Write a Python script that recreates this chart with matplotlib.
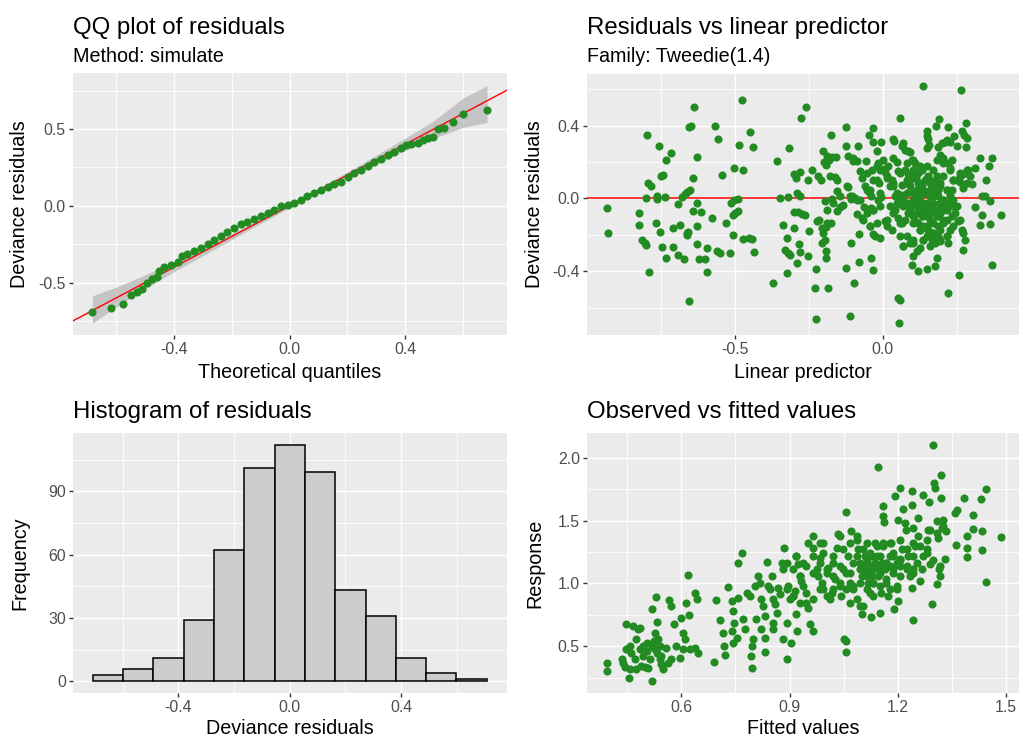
import matplotlib
matplotlib.use("Agg")
import matplotlib.pyplot as plt
import numpy as np

plt.rcParams["font.family"] = ["Liberation Sans", "DejaVu Sans"]
plt.rcParams["axes.unicode_minus"] = False

# QQ plot: theoretical quantile, deviance residual
qq_points = [
    (-0.683, -0.689), (-0.617, -0.665), (-0.576, -0.643), (-0.550, -0.583), (-0.527, -0.565),
    (-0.512, -0.543), (-0.495, -0.500), (-0.475, -0.478), (-0.460, -0.461), (-0.452, -0.424),
    (-0.435, -0.402), (-0.412, -0.387), (-0.388, -0.365), (-0.371, -0.330), (-0.354, -0.317),
    (-0.331, -0.296), (-0.308, -0.272), (-0.284, -0.250), (-0.261, -0.222), (-0.238, -0.196),
    (-0.215, -0.170), (-0.192, -0.143), (-0.169, -0.120), (-0.146, -0.104), (-0.123, -0.083),
    (-0.099, -0.065), (-0.076, -0.048), (-0.053, -0.026), (-0.030, -0.004), (-0.007, 0.004),
    (0.016, 0.017), (0.039, 0.039), (0.062, 0.061), (0.086, 0.083), (0.109, 0.104),
    (0.132, 0.122), (0.155, 0.141), (0.178, 0.157), (0.201, 0.185), (0.224, 0.213),
    (0.247, 0.235), (0.271, 0.261), (0.294, 0.283), (0.317, 0.304), (0.340, 0.330),
    (0.363, 0.352), (0.386, 0.374), (0.403, 0.396), (0.421, 0.400), (0.444, 0.409),
    (0.461, 0.430), (0.479, 0.443), (0.496, 0.446), (0.513, 0.500), (0.536, 0.504),
    (0.565, 0.543), (0.600, 0.598), (0.684, 0.624),
]
band_x = [-0.683, -0.6, -0.5, -0.4, -0.3, -0.2, -0.1, 0.0, 0.1, 0.2, 0.3, 0.4, 0.5, 0.6, 0.684]
band_lo = [-0.765, -0.66, -0.54, -0.43, -0.325, -0.22, -0.115, -0.012, 0.085, 0.18, 0.27, 0.36, 0.44, 0.51, 0.543]
band_hi = [-0.587, -0.53, -0.45, -0.365, -0.275, -0.18, -0.085, 0.012, 0.115, 0.22, 0.33, 0.44, 0.555, 0.70, 0.783]

# residuals vs linear predictor
linpred_resid = [
    (-0.932, -0.053), (-0.929, -0.193), (-0.797, 0.349), (-0.756, 0.288), (-0.715, 0.248),
    (-0.732, 0.211), (-0.743, 0.128), (-0.748, 0.125), (-0.792, 0.083), (-0.784, 0.066),
    (-0.800, 0.002), (-0.762, 0.011), (-0.761, -0.006), (-0.735, 0.009), (-0.822, -0.081),
    (-0.824, -0.145), (-0.766, -0.136), (-0.753, -0.187), (-0.813, -0.231), (-0.803, -0.246),
    (-0.800, -0.259), (-0.788, -0.404), (-0.744, -0.266), (-0.732, -0.328), (-0.709, -0.163),
    (-0.709, -0.266), (-0.693, -0.312), (-0.685, -0.145), (-0.671, -0.332), (-0.693, -0.031),
    (-0.679, 0.006), (-0.668, 0.026), (-0.660, 0.037), (-0.651, 0.048), (-0.640, 0.110),
    (-0.626, 0.226), (-0.653, 0.393), (-0.649, 0.396), (-0.636, 0.499), (-0.627, -0.026),
    (-0.640, -0.068), (-0.615, -0.075), (-0.626, -0.154), (-0.662, -0.191), (-0.660, -0.204),
    (-0.657, -0.185), (-0.628, -0.251), (-0.619, -0.332), (-0.599, -0.336), (-0.592, -0.275),
    (-0.592, -0.404), (-0.577, -0.110), (-0.566, 0.398), (-0.557, 0.328), (-0.544, 0.130),
    (-0.561, -0.292), (-0.550, -0.299), (-0.530, -0.136), (-0.515, -0.299), (-0.506, -0.200),
    (-0.505, -0.092), (-0.499, -0.081), (-0.490, -0.072), (-0.511, -0.024), (-0.501, -0.011),
    (-0.490, -0.002), (-0.503, 0.169), (-0.486, 0.295), (-0.475, 0.541), (-0.472, 0.156),
    (-0.449, 0.363), (-0.439, 0.284), (-0.472, -0.226), (-0.450, -0.218), (-0.440, -0.222),
    (-0.435, -0.297), (-0.653, -0.565),
    (-0.358, 0.207), (-0.346, 0.000), (-0.319, 0.009), (-0.315, 0.277), (-0.372, -0.464),
    (-0.324, -0.409), (-0.338, -0.145), (-0.322, -0.218), (-0.330, -0.284), (-0.319, -0.299),
    (-0.313, -0.314), (-0.298, -0.163), (-0.291, -0.356), (-0.283, -0.251), (-0.279, -0.297),
    (-0.253, -0.316), (-0.250, -0.182), (-0.298, 0.132), (-0.279, 0.145), (-0.293, 0.112),
    (-0.288, 0.029), (-0.279, 0.015), (-0.301, -0.077), (-0.285, -0.077), (-0.271, -0.086),
    (-0.262, -0.094), (-0.252, 0.103), (-0.240, 0.158), (-0.218, 0.125), (-0.209, 0.103),
    (-0.200, 0.262), (-0.193, 0.185), (-0.199, 0.198), (-0.182, 0.213), (-0.188, 0.233),
    (-0.172, 0.226), (-0.158, 0.229), (-0.175, 0.347), (-0.277, 0.440), (-0.260, 0.501),
    (-0.225, -0.389), (-0.230, -0.495), (-0.225, -0.664), (-0.185, -0.494), (-0.191, -0.328),
    (-0.193, -0.288), (-0.206, -0.246), (-0.194, -0.229), (-0.200, -0.191), (-0.204, -0.165),
    (-0.191, -0.158), (-0.189, -0.136), (-0.175, -0.134), (-0.222, -0.123), (-0.214, -0.117),
    (-0.189, -0.062), (-0.195, -0.017), (-0.172, -0.004), (-0.167, -0.026), (-0.178, 0.121),
    (-0.161, 0.116), (-0.153, 0.103), (-0.155, 0.039), (-0.144, 0.015), (-0.154, -0.072),
    (-0.144, -0.050), (-0.134, -0.037), (-0.122, 0.070), (-0.116, 0.062), (-0.111, 0.011),
    (-0.105, 0.015), (-0.124, 0.393), (-0.125, 0.288), (-0.116, 0.231), (-0.099, 0.222),
    (-0.101, 0.204), (-0.088, 0.206), (-0.084, 0.290), (-0.107, -0.006), (-0.093, 0.004),
    (-0.086, -0.009), (-0.108, -0.246), (-0.125, -0.385), (-0.097, -0.466), (-0.110, -0.644),
    (-0.079, -0.350), (-0.079, -0.198), (-0.088, -0.084), (-0.063, -0.048), (-0.070, -0.106),
    (-0.075, 0.149), (-0.071, 0.112), (-0.056, 0.207), (-0.047, 0.349), (-0.034, 0.387),
    (-0.034, 0.308), (-0.020, 0.261), (-0.017, 0.194), (-0.007, 0.308), (-0.037, 0.158),
    (-0.054, 0.044), (-0.059, 0.066), (-0.046, 0.035), (-0.039, 0.011), (-0.038, -0.051),
    (-0.032, -0.062), (-0.044, -0.154), (-0.032, -0.196), (-0.026, -0.206), (-0.009, -0.218),
    (-0.039, -0.328), (-0.032, -0.396), (-0.015, -0.007), (-0.006, 0.007), (-0.020, 0.103),
    (-0.011, 0.084),
    (0.000, 0.161), (0.008, 0.143), (0.014, 0.112), (0.019, 0.176), (0.030, 0.103),
    (0.036, 0.066), (0.042, 0.011), (0.047, 0.029), (0.059, 0.440), (0.056, -0.007),
    (0.059, -0.031), (0.036, 0.327), (0.039, 0.314), (0.034, 0.222), (0.047, 0.198),
    (0.064, 0.290), (0.070, 0.305), (0.075, 0.268), (0.087, 0.259), (0.092, 0.253),
    (0.100, 0.213), (0.109, 0.194), (0.104, 0.158), (0.092, 0.103), (0.081, 0.084),
    (0.064, 0.075), (0.053, 0.152), (0.075, 0.158), (0.087, 0.134), (0.098, 0.117),
    (0.113, 0.112), (0.120, 0.084), (0.132, 0.075), (0.143, 0.103), (0.137, 0.618),
    (0.151, 0.372), (0.149, 0.341), (0.152, 0.327), (0.150, 0.275), (0.158, 0.295),
    (0.180, 0.400), (0.191, 0.437), (0.186, 0.283), (0.194, 0.240), (0.205, 0.222),
    (0.202, 0.305), (0.211, 0.308), (0.220, 0.391), (0.227, 0.312), (0.216, 0.323),
    (0.242, 0.345), (0.250, 0.286), (0.265, 0.593), (0.280, 0.413), (0.267, 0.369),
    (0.275, 0.347), (0.284, 0.332), (0.282, 0.283), (0.222, 0.194), (0.235, 0.213),
    (0.227, 0.167), (0.239, 0.103), (0.250, 0.103), (0.261, 0.121), (0.273, 0.136),
    (0.284, 0.149), (0.289, 0.158), (0.312, 0.165), (0.329, 0.220), (0.370, 0.224),
    (0.360, 0.178), (0.348, 0.101), (0.301, 0.079), (0.273, 0.057), (0.284, 0.084),
    (0.261, 0.088), (0.233, 0.048), (0.216, 0.048), (0.334, 0.011), (0.346, 0.015),
    (0.363, -0.017), (0.312, -0.046), (0.334, -0.090), (0.329, -0.145), (0.363, -0.141),
    (0.399, -0.092), (0.370, -0.369), (0.259, -0.422), (0.220, -0.521), (0.273, -0.284),
    (0.278, -0.228), (0.273, -0.191), (0.267, -0.172), (0.256, -0.127), (0.227, -0.172),
    (0.216, -0.209), (0.222, -0.246), (0.194, -0.237), (0.177, -0.246), (0.182, -0.328),
    (0.177, -0.374), (0.149, -0.389), (0.120, -0.398), (0.104, -0.319), (0.098, -0.365),
    (0.115, -0.292), (0.126, -0.273), (0.092, -0.246), (0.104, -0.228), (0.070, -0.264),
    (0.059, -0.209), (0.064, -0.136), (0.075, -0.117), (0.053, -0.108), (0.042, -0.062),
    (0.030, -0.172), (0.014, -0.154), (0.008, -0.127), (0.059, -0.558), (0.053, -0.549),
    (0.056, -0.686),
    (0.104, -0.026), (0.115, -0.044), (0.126, -0.062), (0.137, -0.081), (0.149, -0.099),
    (0.160, -0.117), (0.171, -0.136), (0.182, -0.099), (0.194, -0.081), (0.205, -0.062),
    (0.216, -0.044), (0.227, -0.026), (0.239, -0.007), (0.171, -0.026), (0.154, -0.044),
    (0.137, -0.026), (0.120, -0.007), (0.109, 0.011), (0.104, 0.029), (0.115, 0.048),
    (0.126, 0.048), (0.143, 0.029), (0.160, 0.011), (0.171, 0.029), (0.188, 0.011),
    (0.205, -0.007), (0.194, -0.044), (0.177, -0.062), (0.160, -0.081), (0.143, -0.062),
    (0.132, -0.099), (0.120, -0.136), (0.137, -0.154), (0.154, -0.172), (0.171, -0.191),
    (0.188, -0.154), (0.205, -0.136), (0.216, -0.117), (0.233, -0.099), (0.244, -0.081),
    (0.250, -0.044), (0.149, -0.209), (0.137, -0.228), (0.166, -0.228), (0.188, -0.209),
    (0.126, -0.172), (0.109, -0.127), (0.104, -0.099), (0.087, -0.081), (0.092, -0.053),
    (0.081, -0.026), (0.070, -0.007), (0.064, 0.020), (0.120, 0.139), (0.132, 0.158),
    (0.149, 0.176), (0.171, 0.158), (0.182, 0.121), (0.194, 0.084), (0.160, 0.084),
    (0.154, 0.121), (0.171, 0.066), (0.188, 0.048),
    (-0.054, 0.140), (-0.032, 0.103), (-0.009, 0.158), (0.014, 0.121), (0.036, 0.085),
    (0.058, 0.140), (0.081, 0.103), (0.103, 0.121), (0.126, 0.085), (0.149, 0.112),
    (0.171, 0.094), (0.194, 0.066), (0.216, 0.048), (-0.043, 0.048), (-0.009, 0.030),
    (0.025, 0.066), (0.047, 0.011), (0.081, 0.030), (0.103, -0.007), (0.126, 0.011),
    (0.149, -0.025), (0.171, 0.011), (0.194, -0.025), (0.216, -0.062), (0.239, -0.044),
    (0.092, -0.062), (0.115, -0.080), (0.137, -0.099), (0.160, -0.062), (0.182, -0.099),
    (0.205, -0.117), (0.036, -0.080), (0.014, -0.117), (-0.020, -0.135), (-0.043, -0.154),
    (0.058, -0.135), (0.103, -0.135), (0.126, -0.172), (0.149, -0.154), (0.171, -0.190),
    (0.194, -0.172), (0.216, -0.209), (0.239, -0.154), (0.261, -0.117), (0.081, -0.209),
    (0.103, -0.245), (0.137, -0.227), (0.160, -0.264), (0.194, -0.227), (0.070, -0.264),
    (0.115, -0.044), (0.137, -0.025), (0.160, 0.048), (0.182, 0.030), (0.205, -0.007),
    (0.227, 0.011), (0.092, 0.066), (0.115, 0.048), (0.137, 0.048), (0.070, -0.044),
    (0.047, -0.025), (0.261, 0.140), (0.284, 0.158), (0.295, 0.121), (0.239, 0.103),
    (-0.009, -0.044), (-0.032, -0.062), (-0.054, -0.080), (-0.066, -0.117), (-0.077, -0.007),
    (0.025, -0.044), (0.002, 0.213), (-0.020, 0.176), (0.081, 0.195), (0.103, 0.213),
    (0.126, 0.176), (0.182, 0.213), (0.205, 0.195), (0.227, 0.158), (0.205, 0.121),
]

# histogram of deviance residuals
hist_centers = [-0.654, -0.545, -0.436, -0.327, -0.218, -0.109, 0.0, 0.109, 0.218, 0.327, 0.436, 0.545, 0.654]
hist_counts = [3, 6, 11, 29, 62, 101, 112, 99, 43, 31, 11, 4, 1]
bin_width = 0.109

# observed vs fitted
fitted_response = [
    (0.392, 0.370), (0.392, 0.302), (0.447, 0.675), (0.436, 0.397), (0.438, 0.370),
    (0.443, 0.331), (0.454, 0.251), (0.447, 0.476), (0.456, 0.503), (0.466, 0.661),
    (0.480, 0.635), (0.484, 0.648), (0.473, 0.556), (0.470, 0.397), (0.475, 0.317),
    (0.489, 0.344), (0.498, 0.331), (0.507, 0.323), (0.517, 0.222), (0.519, 0.799),
    (0.529, 0.894), (0.532, 0.693), (0.526, 0.608), (0.523, 0.542), (0.517, 0.503),
    (0.526, 0.476), (0.531, 0.450), (0.540, 0.397), (0.544, 0.357), (0.549, 0.317),
    (0.540, 0.503), (0.503, 0.463), (0.494, 0.423), (0.484, 0.476), (0.512, 0.397),
    (0.558, 0.489), (0.566, 0.868), (0.570, 0.820), (0.580, 0.675), (0.586, 0.503),
    (0.595, 0.410), (0.572, 0.397), (0.563, 0.370), (0.600, 0.728), (0.605, 0.608),
    (0.609, 0.556), (0.614, 0.847), (0.619, 1.064), (0.621, 0.746), (0.637, 0.926),
    (0.642, 0.873), (0.637, 0.489), (0.646, 0.444), (0.623, 0.476), (0.605, 0.476),
    (0.544, 0.423), (0.461, 0.450), (0.456, 0.317), (0.503, 0.529), (0.494, 0.503),
    (0.535, 0.556),
    (0.690, 0.376), (0.697, 0.868), (0.706, 0.709), (0.716, 0.608), (0.718, 0.503),
    (0.722, 0.429), (0.730, 0.971), (0.739, 0.860), (0.744, 0.780), (0.745, 0.688),
    (0.739, 0.622), (0.744, 0.529), (0.753, 0.569), (0.757, 1.164), (0.757, 0.886),
    (0.769, 1.241), (0.771, 0.714), (0.776, 0.635), (0.781, 0.926), (0.790, 0.900),
    (0.792, 0.423), (0.796, 0.328), (0.797, 0.503), (0.799, 0.556), (0.804, 0.979),
    (0.808, 0.714), (0.813, 1.058), (0.818, 1.005), (0.822, 0.873), (0.827, 0.820),
    (0.832, 0.741), (0.822, 0.635), (0.832, 0.569), (0.832, 0.455), (0.838, 1.169),
    (0.841, 0.979), (0.845, 0.952), (0.850, 1.058), (0.855, 0.873), (0.859, 0.833),
    (0.864, 0.767), (0.855, 0.688), (0.853, 0.635), (0.869, 0.966), (0.873, 0.913),
    (0.878, 1.164), (0.881, 0.561), (0.884, 1.278), (0.892, 0.688), (0.892, 0.397),
    (0.896, 0.979), (0.901, 0.873), (0.910, 0.900), (0.915, 0.939), (0.904, 0.524),
    (0.919, 0.754), (0.921, 0.622), (0.919, 1.217), (0.924, 1.151), (0.929, 1.058),
    (0.933, 1.019), (0.938, 0.979), (0.947, 0.847), (0.952, 0.807), (0.957, 0.675),
    (0.966, 0.622), (0.952, 1.323), (0.964, 1.381), (0.966, 1.283), (0.975, 1.111),
    (0.980, 1.058), (0.984, 1.204), (0.989, 1.005), (0.994, 0.952), (0.994, 1.323),
    (1.003, 1.085), (1.007, 1.124), (1.012, 0.873), (1.017, 0.926), (1.021, 1.164),
    (1.026, 1.032), (1.032, 1.278), (1.035, 1.394), (1.040, 1.381), (1.040, 0.979),
    (1.044, 0.900), (1.049, 1.111), (1.052, 0.561), (1.058, 0.542), (1.056, 0.458),
    (1.058, 1.566), (1.063, 1.217), (1.068, 1.085), (1.068, 1.005), (1.072, 1.416),
    (1.077, 0.952),
    (1.086, 1.376), (1.091, 1.270), (1.095, 1.164), (1.100, 1.058), (1.095, 0.820),
    (1.100, 0.754), (1.105, 1.111), (1.109, 1.217), (1.114, 1.323), (1.119, 1.005),
    (1.123, 0.926), (1.125, 0.733), (1.132, 1.111), (1.137, 1.323), (1.142, 1.217),
    (1.146, 1.058), (1.146, 1.924), (1.151, 0.767), (1.154, 0.926), (1.156, 1.164),
    (1.160, 1.296), (1.160, 1.614), (1.160, 1.535), (1.162, 1.487), (1.165, 1.111),
    (1.169, 1.005), (1.174, 0.900), (1.179, 1.217), (1.183, 1.323), (1.188, 1.085),
    (1.190, 0.799), (1.193, 1.693), (1.197, 0.952), (1.202, 0.860), (1.202, 1.508),
    (1.207, 1.759), (1.208, 1.138), (1.211, 1.270), (1.216, 1.593), (1.220, 1.482),
    (1.223, 1.429), (1.230, 1.217), (1.234, 1.058), (1.239, 0.966), (1.241, 1.733),
    (1.239, 1.627), (1.242, 0.706), (1.244, 1.442), (1.248, 1.296), (1.253, 1.164),
    (1.257, 1.521), (1.257, 1.376), (1.262, 1.019), (1.267, 1.111), (1.270, 1.707),
    (1.271, 1.217), (1.281, 1.270), (1.285, 1.429), (1.287, 1.646), (1.290, 1.151),
    (1.295, 0.836), (1.299, 2.103), (1.301, 1.799), (1.304, 1.759), (1.308, 1.495),
    (1.310, 0.992), (1.313, 1.363), (1.316, 1.111), (1.318, 1.058), (1.320, 1.865),
    (1.320, 1.683), (1.322, 1.442), (1.327, 1.508), (1.332, 1.191), (1.334, 1.416),
    (1.359, 1.561), (1.362, 1.307), (1.364, 1.588), (1.385, 1.677), (1.392, 1.376),
    (1.392, 1.283), (1.394, 1.209), (1.410, 1.548), (1.410, 1.434), (1.432, 1.672),
    (1.433, 1.416), (1.435, 1.262), (1.445, 1.752), (1.445, 1.011), (1.487, 1.371),
    (1.114, 1.164), (1.123, 1.111), (1.128, 1.058), (1.132, 1.005), (1.137, 1.164),
    (1.119, 1.085), (1.142, 1.138), (1.128, 1.217), (1.151, 1.111), (1.169, 1.164),
    (1.188, 1.217), (1.207, 1.191), (1.225, 1.111), (1.244, 1.111), (1.197, 1.164),
    (1.179, 1.138),
    (0.892, 1.164), (0.910, 1.111), (0.929, 1.058), (0.947, 1.137), (0.966, 1.085),
    (0.984, 1.164), (1.003, 1.111), (1.021, 1.058), (1.040, 1.137), (1.058, 1.085),
    (1.077, 1.164), (1.095, 1.111), (1.114, 1.190), (1.132, 1.137), (1.151, 1.217),
    (1.169, 1.164), (1.188, 1.244), (1.206, 1.190), (1.225, 1.270), (1.243, 1.217),
    (1.262, 1.296), (1.281, 1.244), (1.299, 1.190), (1.317, 1.137), (1.114, 1.058),
    (1.132, 1.006), (1.151, 1.085), (1.169, 1.032), (1.188, 1.111), (1.206, 1.058),
    (1.225, 1.137), (1.243, 1.085), (1.095, 1.006), (1.077, 0.979), (1.058, 0.952),
    (1.040, 1.006), (1.021, 0.952), (1.003, 0.899), (0.984, 0.952), (0.966, 0.873),
    (0.947, 0.926), (0.929, 0.847), (0.910, 0.899), (0.892, 0.952), (1.114, 0.952),
    (1.151, 0.979), (1.179, 0.952), (1.197, 0.979), (1.132, 0.899), (1.086, 0.873),
    (1.104, 0.820), (1.068, 0.847), (1.123, 1.244), (1.142, 1.296), (1.160, 1.323),
    (1.104, 1.270), (1.086, 1.217), (1.179, 1.323), (1.206, 1.349), (1.243, 1.323),
    (1.281, 1.349), (1.308, 1.402), (1.327, 1.455), (1.290, 1.429), (0.966, 1.217),
    (0.993, 1.244), (1.021, 1.217), (1.049, 1.270), (1.068, 1.323), (1.086, 1.349),
    (0.984, 1.323), (0.938, 1.164), (0.919, 1.217), (0.882, 1.111),
]

W, H = 1019, 738
BG = "#EBEBEB"
GREEN = "#228B22"
TXT = "#4D4D4D"
MS = 34

fig = plt.figure(figsize=(W / 100, H / 100), dpi=100)


def add_panel(x0, y0, x1, y1):
    ax = fig.add_axes([x0 / W, 1 - y1 / H, (x1 - x0) / W, (y1 - y0) / H])
    ax.set_facecolor(BG)
    for s in ax.spines.values():
        s.set_visible(False)
    ax.set_axisbelow(True)
    ax.grid(which="major", color="white", linewidth=1.05)
    ax.grid(which="minor", color="white", linewidth=0.6)
    ax.tick_params(which="major", length=3, width=1, color="#333333",
                   labelsize=11.4, labelcolor=TXT, pad=2)
    ax.tick_params(which="minor", length=0)
    return ax


def set_ticks(ax, xt, xl, xm, yt, yl, ym):
    ax.set_xticks(xt)
    ax.set_xticklabels(xl)
    ax.set_xticks(xm, minor=True)
    ax.set_yticks(yt)
    ax.set_yticklabels(yl)
    ax.set_yticks(ym, minor=True)


def fig_text(x, y, s, **kw):
    fig.text(x / W, 1 - y / H, s, **kw)


# QQ plot
ax1 = add_panel(72.7, 73, 506.7, 335)
ax1.fill_between(band_x, band_lo, band_hi, color="#BEBEBE", alpha=0.85, linewidth=0, zorder=2)
ax1.axline((0, 0), slope=1.0, color="red", linewidth=1.0, zorder=3)
qq = np.array(qq_points)
ax1.scatter(qq[:, 0], qq[:, 1], s=MS, color=GREEN, linewidths=0, zorder=4)
ax1.set_xlim(-0.751, 0.752)
ax1.set_ylim(-0.842, 0.865)
set_ticks(ax1, [-0.4, 0.0, 0.4], ["-0.4", "0.0", "0.4"], [-0.6, -0.2, 0.2, 0.6],
          [-0.5, 0.0, 0.5], ["-0.5", "0.0", "0.5"], [-0.75, -0.25, 0.25, 0.75])

# residuals vs linear predictor
ax2 = add_panel(586.7, 74, 1020.6, 335)
ax2.axhline(0, color="red", linewidth=1.1, zorder=3)
lr = np.array(linpred_resid)
ax2.scatter(lr[:, 0], lr[:, 1], s=MS, color=GREEN, linewidths=0, zorder=4)
ax2.set_xlim(-1.0, 0.466)
ax2.set_ylim(-0.751, 0.683)
set_ticks(ax2, [-0.5, 0.0], ["-0.5", "0.0"], [-0.75, -0.25, 0.25],
          [-0.4, 0.0, 0.4], ["-0.4", "0.0", "0.4"], [-0.6, -0.2, 0.2, 0.6])

# histogram
ax3 = add_panel(72.7, 433, 506.7, 693)
ax3.bar(hist_centers, hist_counts, width=bin_width, color="#CCCCCC",
        edgecolor="black", linewidth=1.1, zorder=3)
ax3.set_xlim(-0.78, 0.78)
ax3.set_ylim(-5.6, 117.6)
set_ticks(ax3, [-0.4, 0.0, 0.4], ["-0.4", "0.0", "0.4"], [-0.6, -0.2, 0.2, 0.6],
          [0, 30, 60, 90], ["0", "30", "60", "90"], [15, 45, 75, 105])

# observed vs fitted
ax4 = add_panel(586.7, 433, 1020.8, 693)
fr = np.array(fitted_response)
ax4.scatter(fr[:, 0], fr[:, 1], s=MS, color=GREEN, linewidths=0, zorder=4)
ax4.set_xlim(0.337, 1.542)
ax4.set_ylim(0.128, 2.197)
set_ticks(ax4, [0.6, 0.9, 1.2, 1.5], ["0.6", "0.9", "1.2", "1.5"], [0.45, 0.75, 1.05, 1.35],
          [0.5, 1.0, 1.5, 2.0], ["0.5", "1.0", "1.5", "2.0"], [0.25, 0.75, 1.25, 1.75])

# titles and subtitles
fig_text(72.7, 34, "QQ plot of residuals", fontsize=17.3, va="baseline", ha="left")
fig_text(72.7, 62, "Method: simulate", fontsize=14.2, va="baseline", ha="left")
fig_text(586.7, 34, "Residuals vs linear predictor", fontsize=17.3, va="baseline", ha="left")
fig_text(586.7, 62, "Family: Tweedie(1.4)", fontsize=14.2, va="baseline", ha="left")
fig_text(72.7, 418, "Histogram of residuals", fontsize=17.3, va="baseline", ha="left")
fig_text(586.7, 418, "Observed vs fitted values", fontsize=17.3, va="baseline", ha="left")

# axis titles
fig_text(289.7, 372, "Theoretical quantiles", fontsize=14.2, ha="center", va="center")
fig_text(20, 204, "Deviance residuals", fontsize=14.2, ha="center", va="center", rotation=90)
fig_text(803, 372, "Linear predictor", fontsize=14.2, ha="center", va="center")
fig_text(535, 204, "Deviance residuals", fontsize=14.2, ha="center", va="center", rotation=90)
fig_text(289.7, 729, "Deviance residuals", fontsize=14.2, ha="center", va="center")
fig_text(20, 563, "Frequency", fontsize=14.2, ha="center", va="center", rotation=90)
fig_text(803, 729, "Fitted values", fontsize=14.2, ha="center", va="center")
fig_text(535, 563, "Response", fontsize=14.2, ha="center", va="center", rotation=90)

fig.savefig("out.png", dpi=100, facecolor="white")
